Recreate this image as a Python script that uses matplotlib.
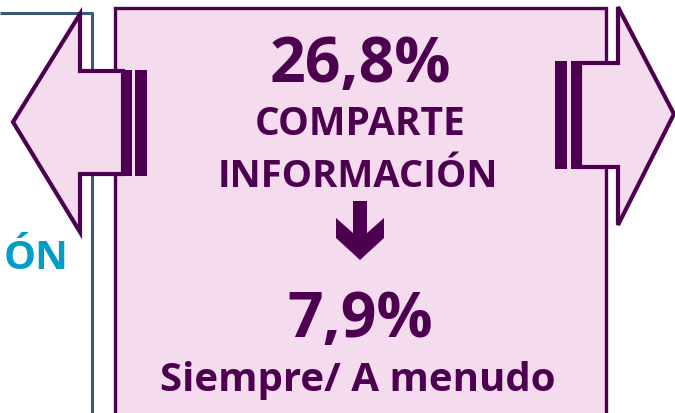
import matplotlib
matplotlib.use("Agg")
import matplotlib.pyplot as plt
from matplotlib.patches import Polygon, Rectangle

# content
share_value = "26,8%"
share_label = ["COMPARTE", "INFORMACIÓN"]
freq_value = "7,9%"
freq_label = "Siempre/ A menudo"
side_text = "ÓN"

purple = "#4e0050"
pink = "#f5dbee"
slate = "#3b5a78"
cyan = "#009ec6"
font = ["Open Sans", "DejaVu Sans"]

fig = plt.figure(figsize=(6.75, 4.14), dpi=100)
ax = fig.add_axes([0, 0, 1, 1])
ax.set_xlim(0, 675)
ax.set_ylim(414, 0)
ax.axis("off")

# frame of the neighbouring panel on the left
ax.plot([0, 91.5, 91.5], [14, 14, 420], color=slate, lw=2.2, solid_capstyle="butt", zorder=1)
ax.text(68, 259, side_text, color=cyan, fontsize=29, fontweight="bold", family=font,
        ha="right", va="center", zorder=1)

# main box
ax.add_patch(Rectangle((114.5, 8.5), 491, 420, facecolor=pink, edgecolor=purple, lw=2.4, zorder=2))

# left arrow
left_arrow = [(13, 123), (80, 15), (80, 72), (123, 72), (123, 175), (80, 175), (80, 233)]
ax.add_patch(Polygon(left_arrow, closed=True, facecolor=pink, edgecolor=purple, lw=3.0,
                     joinstyle="miter", zorder=3))
ax.add_patch(Rectangle((122, 71), 10, 106, facecolor=purple, edgecolor="none", zorder=4))
ax.add_patch(Rectangle((135, 71), 12, 106, facecolor=purple, edgecolor="none", zorder=4))

# right arrow
right_arrow = [(674, 115), (618, 8), (618, 64), (580, 64), (580, 168), (618, 168), (618, 226)]
ax.add_patch(Polygon(right_arrow, closed=True, facecolor=pink, edgecolor=purple, lw=3.0,
                     joinstyle="miter", zorder=3))
ax.add_patch(Rectangle((555, 62), 12, 108, facecolor=purple, edgecolor="none", zorder=4))
ax.add_patch(Rectangle((571, 62), 10, 108, facecolor=purple, edgecolor="none", zorder=4))

# small down arrow between the two figures
down = [(353, 202), (367, 202), (367, 234), (384, 219), (384, 239), (360, 261),
        (336, 239), (336, 219), (353, 234)]
ax.add_patch(Polygon(down, closed=True, facecolor=purple, edgecolor="none", zorder=4))

cx = 360
ax.text(cx, 82, share_value, color=purple, fontsize=45, fontweight="bold", family=font,
        ha="center", va="baseline", zorder=5)
ax.text(cx, 135, share_label[0], color=purple, fontsize=28, fontweight="bold", family=font,
        ha="center", va="baseline", zorder=5)
ax.text(cx - 2, 187, share_label[1], color=purple, fontsize=27.5, fontweight="bold", family=font,
        ha="center", va="baseline", zorder=5)
ax.text(cx, 337, freq_value, color=purple, fontsize=45, fontweight="bold", family=font,
        ha="center", va="baseline", zorder=5)
ax.text(cx - 2, 391, freq_label, color=purple, fontsize=29, fontweight="bold", family=font,
        ha="center", va="baseline", zorder=5)

fig.savefig("out.png", dpi=100)
